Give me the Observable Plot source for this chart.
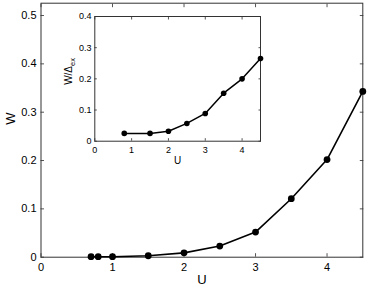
<!DOCTYPE html>
<html>
<head>
<meta charset="utf-8">
<script src="https://cdn.jsdelivr.net/npm/d3@7"></script>
<script src="https://cdn.jsdelivr.net/npm/@observablehq/plot@0.6"></script>
<style>
  html, body { margin: 0; padding: 0; background: white; }
  #wrap { position: relative; width: 374px; height: 289px; }
  #wrap svg { position: absolute; overflow: visible; }
</style>
</head>
<body>
<div id="wrap"></div>
<script>
// Main chart data
const mainU = [0.7, 0.8, 1, 1.5, 2, 2.5, 3, 3.5, 4, 4.5];
const mainW = [0.001, 0.001, 0.001, 0.003, 0.009, 0.023, 0.052, 0.121, 0.202, 0.343];
// Inset data
const insetU = [0.8, 1.5, 2, 2.5, 3, 3.5, 4, 4.5];
const insetW = [0.025, 0.025, 0.032, 0.057, 0.089, 0.154, 0.2, 0.265];
// Tick values
const mainXTicks = [0, 1, 2, 3, 4];
const mainYTicks = [0, 0.1, 0.2, 0.3, 0.4, 0.5];
const insetXTicks = [0, 1, 2, 3, 4];
const insetYTicks = [0, 0.1, 0.2, 0.3, 0.4];

const mainData = mainU.map((u, i) => ({u, w: mainW[i]}));
const insetData = insetU.map((u, i) => ({u, w: insetW[i]}));

const font = "'Liberation Sans', Arial, Helvetica, sans-serif";
const frameCol = "#333";
const tickCol = "#555";

const main = Plot.plot({
  width: 374, height: 289,
  marginLeft: 40.5, marginRight: 11.7, marginTop: 2.7, marginBottom: 32.3,
  style: {fontFamily: font, fontSize: "11px", color: "black", background: "transparent"},
  x: {domain: [0, 4.5]},
  y: {domain: [0, 0.5255]},
  marks: [
    Plot.axisX({ticks: mainXTicks, tickSize: -3.5, tickPadding: 9.5, stroke: tickCol, label: null, tickFormat: d => String(d)}),
    Plot.axisX({anchor: "top", ticks: mainXTicks, tickSize: -3.5, stroke: tickCol, label: null, tickFormat: () => ""}),
    Plot.axisY({ticks: mainYTicks, tickSize: -3.5, tickPadding: 8, stroke: tickCol, label: null, tickFormat: d => String(d)}),
    Plot.axisY({anchor: "right", ticks: mainYTicks, tickSize: -3.5, stroke: tickCol, label: null, tickFormat: () => ""}),
    Plot.frame({stroke: frameCol, strokeWidth: 1}),
    Plot.line(mainData, {x: "u", y: "w", stroke: "black", strokeWidth: 1.6}),
    Plot.dot(mainData, {x: "u", y: "w", r: 3.4, fill: "black", stroke: "none"}),
    Plot.text(["U"], {frameAnchor: "bottom", dy: 22.5, fontSize: 13, lineAnchor: "middle"}),
    Plot.text(["W"], {frameAnchor: "left", dx: -30, dy: -5.5, rotate: -90, fontSize: 13, lineAnchor: "middle"})
  ]
});
main.style.left = "0px";
main.style.top = "0px";
document.getElementById("wrap").appendChild(main);

const inset = Plot.plot({
  width: 210, height: 170,
  marginLeft: 34.3, marginRight: 10, marginTop: 16, marginBottom: 29.3,
  style: {fontFamily: font, fontSize: "9px", color: "black", background: "transparent"},
  x: {domain: [0, 4.5]},
  y: {domain: [0, 0.4]},
  marks: [
    Plot.frame({fill: "white", stroke: "none"}),
    Plot.axisX({ticks: insetXTicks, tickSize: -2.5, tickPadding: 7.5, stroke: tickCol, label: null, tickFormat: d => String(d)}),
    Plot.axisX({anchor: "top", ticks: insetXTicks, tickSize: -2.5, stroke: tickCol, label: null, tickFormat: () => ""}),
    Plot.axisY({ticks: insetYTicks, tickSize: -2.5, tickPadding: 5.8, stroke: tickCol, label: null, tickFormat: d => String(d)}),
    Plot.axisY({anchor: "right", ticks: insetYTicks, tickSize: -2.5, stroke: tickCol, label: null, tickFormat: () => ""}),
    Plot.frame({stroke: frameCol, strokeWidth: 1}),
    Plot.line(insetData, {x: "u", y: "w", stroke: "black", strokeWidth: 1.5}),
    Plot.dot(insetData, {x: "u", y: "w", r: 2.8, fill: "black", stroke: "none"}),
    Plot.text(["U"], {frameAnchor: "bottom", dy: 19.3, fontSize: 10, lineAnchor: "middle"}),
    Plot.text(["W/Δex"], {frameAnchor: "left", dx: -26, dy: 6, rotate: -90, fontSize: 10, lineAnchor: "middle"})
  ]
});
inset.style.left = "60px";
inset.style.top = "0px";
document.getElementById("wrap").appendChild(inset);

// Subscript "ex" in the inset's y label
d3.select(inset).selectAll("text").filter(function() { return this.textContent === "W/Δex"; })
  .each(function() {
    const t = d3.select(this);
    t.text("W/Δ");
    t.append("tspan").attr("dy", "0.35em").attr("font-size", "7.5px").text("ex");
  });
</script>
</body>
</html>
